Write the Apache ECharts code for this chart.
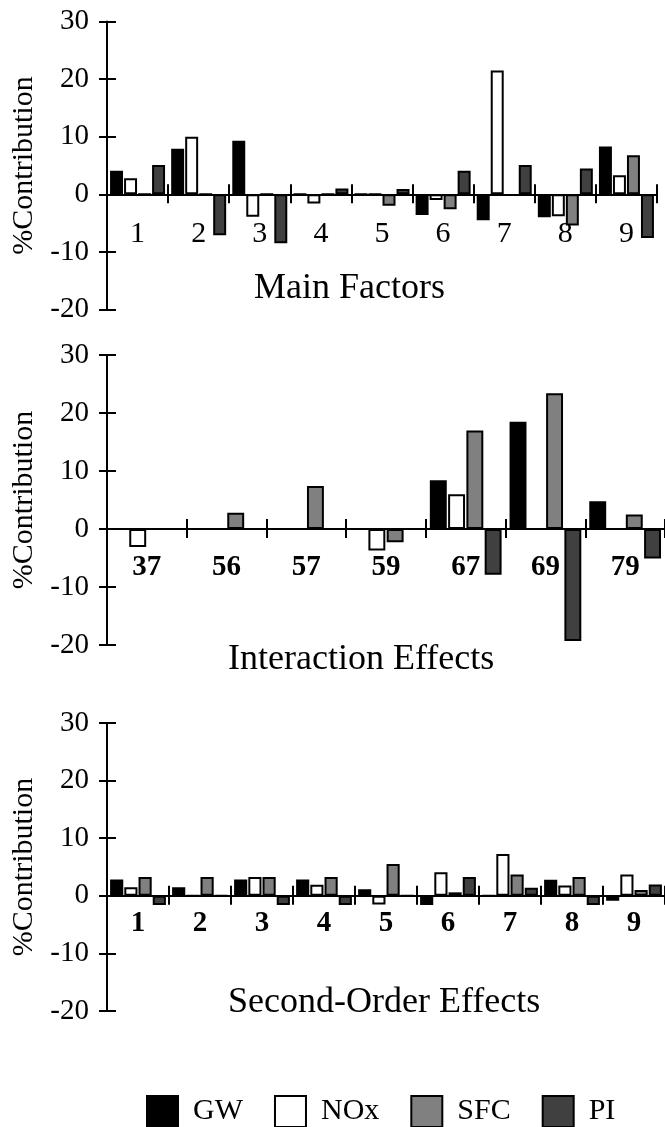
<!DOCTYPE html>
<html lang="en">
<head>
    <meta charset="UTF-8">
    <title>% Contribution</title>
    <script src="https://cdn.jsdelivr.net/npm/echarts@6/dist/echarts.min.js"></script>
    <style>
        html, body { margin: 0; padding: 0; background: #fff; }
    </style>
</head>
<body>
<div id="chart" style="width: 665px;height:1127px;"></div>

<script>
    // 数据
    var mainCats = ['1', '2', '3', '4', '5', '6', '7', '8', '9'];
    var mainGW  = [4.1, 7.9, 9.3, 0, 0, -3.6, -4.5, -4.0, 8.3];
    var mainNOx = [2.8, 10.0, -3.9, -1.6, 0, -1.0, 21.5, -3.8, 3.3];
    var mainSFC = [0, 0, 0, 0, -2.0, -2.6, -0.2, -5.4, 6.8];
    var mainPI  = [5.1, -7.1, -8.5, 1.0, 0.9, 4.1, 5.1, 4.5, -7.6];

    var interCats = ['37', '56', '57', '59', '67', '69', '79'];
    var interGW  = [0, 0, 0, 0, 8.4, 18.5, 4.8];
    var interNOx = [-3.1, 0, 0, -3.7, 6.0, 0, 0];
    var interSFC = [0, 2.8, 7.4, -2.3, 17.0, 23.4, 2.5];
    var interPI  = [0, 0, 0, 0, -7.9, -19.3, -5.1];

    var secondCats = ['1', '2', '3', '4', '5', '6', '7', '8', '9'];
    var secondGW  = [2.85, 1.5, 2.85, 2.85, 1.15, -1.6, 0, 2.8, -0.85];
    var secondNOx = [1.5, 0, 3.25, 1.9, -1.5, 4.1, 7.25, 1.8, 3.7];
    var secondSFC = [3.25, 3.25, 3.25, 3.25, 5.5, 0.6, 3.7, 3.25, 1.0];
    var secondPI  = [-1.6, 0, -1.6, -1.6, 0, 3.25, 1.4, -1.6, 1.95];

    var yTicks = [-20, -10, 0, 10, 20, 30];
    var seriesNames = ['GW', 'NOx', 'SFC', 'PI'];
    var seriesColors = ['#000000', '#ffffff', '#808080', '#404040'];

    var FONT = 'Liberation Serif, Times New Roman, serif';

    // 标签留在网格底边, 用负的 margin 把它拉到零线下方
    var panels = [
        { cats: mainCats, data: [mainGW, mainNOx, mainSFC, mainPI],
          grid: { left: 107, top: 21.5, width: 550, height: 288 },
          labelSize: 30, labelWeight: 'normal', labelMargin: -90,
          title: 'Main Factors', titleX: 254, titleY: 291 },
        { cats: interCats, data: [interGW, interNOx, interSFC, interPI],
          grid: { left: 107, top: 355, width: 560, height: 290 },
          labelSize: 29, labelWeight: 'bold', labelMargin: -92,
          title: 'Interaction Effects', titleX: 228, titleY: 662 },
        { cats: secondCats, data: [secondGW, secondNOx, secondSFC, secondPI],
          grid: { left: 107, top: 723, width: 558, height: 288 },
          labelSize: 29, labelWeight: 'bold', labelMargin: -102,
          title: 'Second-Order Effects', titleX: 228, titleY: 1005 }
    ];

    var grids = [], xAxes = [], yAxes = [], series = [], graphics = [];

    panels.forEach(function (p, i) {
        grids.push(p.grid);
        // 主x轴 (标签 + 向下刻度), onZeroAxisIndex 是全局索引
        xAxes.push({
            type: 'category', gridIndex: i, data: p.cats, position: 'bottom',
            axisLine: { show: true, onZero: true, onZeroAxisIndex: i * 2,
                lineStyle: { color: '#000', width: 2 } },
            axisTick: { show: true, length: 9, lineStyle: { color: '#000', width: 2 } },
            axisLabel: { color: '#000', fontFamily: FONT, fontSize: p.labelSize,
                fontWeight: p.labelWeight, margin: p.labelMargin }
        });
        // 第二x轴 (只画向上刻度)
        xAxes.push({
            type: 'category', gridIndex: i, data: p.cats, position: 'bottom',
            axisLine: { show: false, onZero: true, onZeroAxisIndex: i * 2 },
            axisTick: { show: true, inside: true, length: 10, lineStyle: { color: '#000', width: 2 } },
            axisLabel: { show: false }
        });
        yAxes.push({
            type: 'value', gridIndex: i, position: 'left',
            min: yTicks[0], max: yTicks[yTicks.length - 1], interval: 10,
            name: '%Contribution', nameLocation: 'middle', nameRotate: 90, nameGap: 64,
            nameTextStyle: { color: '#000', fontFamily: FONT, fontSize: 30 },
            axisLine: { show: true, lineStyle: { color: '#000', width: 2 } },
            axisTick: { show: true, length: 8, lineStyle: { color: '#000', width: 2 } },
            axisLabel: { color: '#000', fontFamily: FONT, fontSize: 29, margin: 18 },
            splitLine: { show: false }
        });
        yAxes.push({
            type: 'value', gridIndex: i, position: 'left', offset: 0,
            min: yTicks[0], max: yTicks[yTicks.length - 1], interval: 10,
            axisLine: { show: false },
            axisTick: { show: true, inside: true, length: 9, lineStyle: { color: '#000', width: 2 } },
            axisLabel: { show: false },
            splitLine: { show: false }
        });
        for (var s = 0; s < 4; s++) {
            series.push({
                name: seriesNames[s], type: 'bar',
                xAxisIndex: i * 2, yAxisIndex: i * 2,
                data: p.data[s],
                barCategoryGap: '10%', barGap: '8%',
                itemStyle: { color: seriesColors[s], borderColor: '#000', borderWidth: 2 }
            });
        }
        graphics.push({
            type: 'text', left: p.titleX, top: p.titleY - 20,
            style: { text: p.title, fill: '#000', font: '36px ' + FONT }
        });
    });

    var myChart = echarts.init(document.getElementById('chart'));
    myChart.setOption({
        animation: false,
        backgroundColor: '#fff',
        grid: grids,
        xAxis: xAxes,
        yAxis: yAxes,
        series: series,
        graphic: graphics,
        legend: {
            data: seriesNames,
            left: 141, top: 1090,
            itemWidth: 31, itemHeight: 31, itemGap: 31,
            icon: 'rect',
            textStyle: { color: '#000', fontFamily: FONT, fontSize: 30, padding: [0, 0, 0, 10] }
        }
    });
</script>
</body>
</html>
